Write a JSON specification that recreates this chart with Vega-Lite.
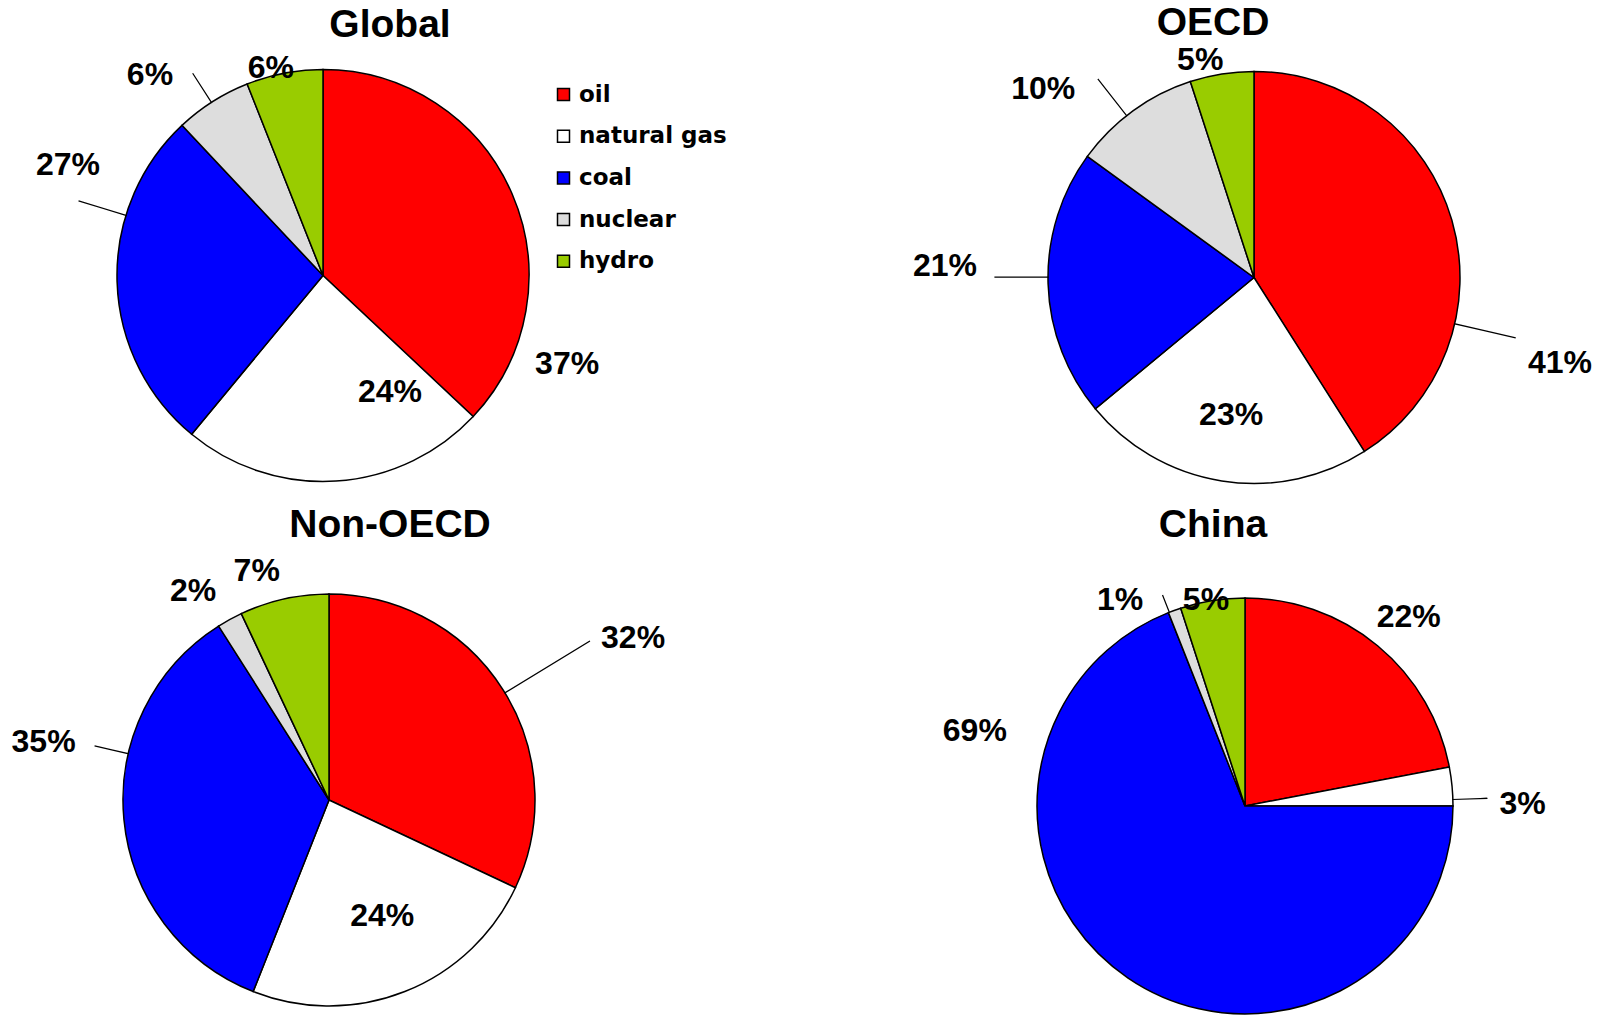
{
  "$schema": "https://vega.github.io/schema/vega-lite/v6.json",
  "background": "white",
  "padding": 0,
  "datasets": {
    "shares": [
      {"region": "Global", "fuel": "oil", "rank": 1, "value": 0.37},
      {"region": "Global", "fuel": "natural gas", "rank": 2, "value": 0.24},
      {"region": "Global", "fuel": "coal", "rank": 3, "value": 0.27},
      {"region": "Global", "fuel": "nuclear", "rank": 4, "value": 0.06},
      {"region": "Global", "fuel": "hydro", "rank": 5, "value": 0.06},
      {"region": "OECD", "fuel": "oil", "rank": 1, "value": 0.41},
      {"region": "OECD", "fuel": "natural gas", "rank": 2, "value": 0.23},
      {"region": "OECD", "fuel": "coal", "rank": 3, "value": 0.21},
      {"region": "OECD", "fuel": "nuclear", "rank": 4, "value": 0.10},
      {"region": "OECD", "fuel": "hydro", "rank": 5, "value": 0.05},
      {"region": "Non-OECD", "fuel": "oil", "rank": 1, "value": 0.32},
      {"region": "Non-OECD", "fuel": "natural gas", "rank": 2, "value": 0.24},
      {"region": "Non-OECD", "fuel": "coal", "rank": 3, "value": 0.35},
      {"region": "Non-OECD", "fuel": "nuclear", "rank": 4, "value": 0.02},
      {"region": "Non-OECD", "fuel": "hydro", "rank": 5, "value": 0.07},
      {"region": "China", "fuel": "oil", "rank": 1, "value": 0.22},
      {"region": "China", "fuel": "natural gas", "rank": 2, "value": 0.03},
      {"region": "China", "fuel": "coal", "rank": 3, "value": 0.69},
      {"region": "China", "fuel": "nuclear", "rank": 4, "value": 0.01},
      {"region": "China", "fuel": "hydro", "rank": 5, "value": 0.05}
    ]
  },
  "data": {"name": "shares"},
  "config": {
    "view": {"stroke": null},
    "title": {"font": "Liberation Sans", "fontSize": 39, "fontWeight": "bold", "color": "black", "anchor": "middle", "frame": "group"},
    "text": {"font": "Liberation Sans", "fontSize": 32, "fontWeight": "bold", "color": "black", "align": "center", "baseline": "middle"},
    "arc": {"stroke": "black", "strokeWidth": 1.5}
  },
  "columns": 2,
  "align": "each",
  "bounds": "flush",
  "spacing": {"row": 45, "column": 280},
  "resolve": {"scale": {"color": "shared"}},
  "concat": [
    {
      "title": {"text": "Global", "dx": 67, "offset": -45.3},
      "width": 646,
      "height": 551,
      "transform": [
        {"filter": "datum.region === 'Global'"},
        {"stack": "value", "groupby": ["region"], "sort": [{"field": "rank", "order": "ascending"}], "as": ["start", "end"]}
      ],
      "layer": [
        {
          "mark": {"type": "arc", "outerRadius": 206},
          "encoding": {
            "theta": {"field": "start", "type": "quantitative", "scale": {"domain": [0, 1]}},
            "theta2": {"field": "end"},
            "color": {
              "field": "fuel", "type": "nominal",
              "scale": {"domain": ["oil", "natural gas", "coal", "nuclear", "hydro"], "range": ["#ff0000", "#ffffff", "#0000ff", "#dddddd", "#99cc00"]},
              "legend": {"orient": "none", "legendX": 552, "legendY": 83, "title": null, "symbolType": "square", "symbolSize": 144, "symbolStrokeColor": "black", "symbolStrokeWidth": 1.5, "symbolOpacity": 1, "labelFont": "DejaVu Sans", "labelFontSize": 23, "labelFontWeight": "bold", "labelColor": "black", "rowPadding": 17.7, "labelOffset": 4}
            }
          }
        },
        {"transform": [{"filter": "datum.fuel === 'nuclear'"}], "mark": {"type": "arc", "radius": 240, "radius2": 206, "thetaOffset": 0.1815, "theta2Offset": 0.1816, "filled": false, "stroke": "black", "strokeWidth": 1.2},
         "encoding": {"theta": {"field": "start", "type": "quantitative", "scale": {"domain": [0, 1]}}, "theta2": {"field": "start"}}},
        {"transform": [{"filter": "datum.fuel === 'coal'"}], "mark": {"type": "arc", "radius": 255, "radius2": 206, "thetaOffset": 1.176, "theta2Offset": 1.1761, "filled": false, "stroke": "black", "strokeWidth": 1.2},
         "encoding": {"theta": {"field": "start", "type": "quantitative", "scale": {"domain": [0, 1]}}, "theta2": {"field": "start"}}},
        {"transform": [{"filter": "datum.fuel === 'oil'"}], "mark": {"type": "text", "radius": 259.6, "thetaOffset": 1.918},
         "encoding": {"theta": {"field": "start", "type": "quantitative", "scale": {"domain": [0, 1]}}, "text": {"field": "value", "type": "quantitative", "format": ".0%"}}},
        {"transform": [{"filter": "datum.fuel === 'natural gas'"}], "mark": {"type": "text", "radius": 134.4, "thetaOffset": 0.295},
         "encoding": {"theta": {"field": "start", "type": "quantitative", "scale": {"domain": [0, 1]}}, "text": {"field": "value", "type": "quantitative", "format": ".0%"}}},
        {"transform": [{"filter": "datum.fuel === 'coal'"}], "mark": {"type": "text", "radius": 277.9, "thetaOffset": 1.288},
         "encoding": {"theta": {"field": "start", "type": "quantitative", "scale": {"domain": [0, 1]}}, "text": {"field": "value", "type": "quantitative", "format": ".0%"}}},
        {"transform": [{"filter": "datum.fuel === 'nuclear'"}], "mark": {"type": "text", "radius": 264.8, "thetaOffset": 0.042},
         "encoding": {"theta": {"field": "start", "type": "quantitative", "scale": {"domain": [0, 1]}}, "text": {"field": "value", "type": "quantitative", "format": ".0%"}}},
        {"transform": [{"filter": "datum.fuel === 'hydro'"}], "mark": {"type": "text", "radius": 213.9, "thetaOffset": 0.131},
         "encoding": {"theta": {"field": "start", "type": "quantitative", "scale": {"domain": [0, 1]}}, "text": {"field": "value", "type": "quantitative", "format": ".0%"}}}
      ]
    },
    {
      "title": {"text": "OECD", "dx": -41, "offset": -42.7},
      "width": 632,
      "height": 555,
      "transform": [
        {"filter": "datum.region === 'OECD'"},
        {"stack": "value", "groupby": ["region"], "sort": [{"field": "rank", "order": "ascending"}], "as": ["start", "end"]}
      ],
      "layer": [
        {
          "mark": {"type": "arc", "outerRadius": 206},
          "encoding": {
            "theta": {"field": "start", "type": "quantitative", "scale": {"domain": [0, 1]}},
            "theta2": {"field": "end"},
            "color": {"field": "fuel", "type": "nominal"}
          }
        },
        {"transform": [{"filter": "datum.fuel === 'nuclear'"}], "mark": {"type": "arc", "radius": 252, "radius2": 206, "thetaOffset": 0.2758, "theta2Offset": 0.2759, "filled": false, "stroke": "black", "strokeWidth": 1.2},
         "encoding": {"theta": {"field": "start", "type": "quantitative", "scale": {"domain": [0, 1]}}, "theta2": {"field": "start"}}},
        {"transform": [{"filter": "datum.fuel === 'coal'"}], "mark": {"type": "arc", "radius": 259, "radius2": 206, "thetaOffset": 0.6929, "theta2Offset": 0.693, "filled": false, "stroke": "black", "strokeWidth": 1.2},
         "encoding": {"theta": {"field": "start", "type": "quantitative", "scale": {"domain": [0, 1]}}, "theta2": {"field": "start"}}},
        {"transform": [{"filter": "datum.fuel === 'oil'"}], "mark": {"type": "arc", "radius": 268, "radius2": 206, "thetaOffset": 1.7977, "theta2Offset": 1.7978, "filled": false, "stroke": "black", "strokeWidth": 1.2},
         "encoding": {"theta": {"field": "start", "type": "quantitative", "scale": {"domain": [0, 1]}}, "theta2": {"field": "start"}}},
        {"transform": [{"filter": "datum.fuel === 'oil'"}], "mark": {"type": "text", "radius": 317.8, "thetaOffset": 1.844},
         "encoding": {"theta": {"field": "start", "type": "quantitative", "scale": {"domain": [0, 1]}}, "text": {"field": "value", "type": "quantitative", "format": ".0%"}}},
        {"transform": [{"filter": "datum.fuel === 'natural gas'"}], "mark": {"type": "text", "radius": 138.9, "thetaOffset": 0.731},
         "encoding": {"theta": {"field": "start", "type": "quantitative", "scale": {"domain": [0, 1]}}, "text": {"field": "value", "type": "quantitative", "format": ".0%"}}},
        {"transform": [{"filter": "datum.fuel === 'coal'"}], "mark": {"type": "text", "radius": 309.2, "thetaOffset": 0.728},
         "encoding": {"theta": {"field": "start", "type": "quantitative", "scale": {"domain": [0, 1]}}, "text": {"field": "value", "type": "quantitative", "format": ".0%"}}},
        {"transform": [{"filter": "datum.fuel === 'nuclear'"}], "mark": {"type": "text", "radius": 282.6, "thetaOffset": 0.101},
         "encoding": {"theta": {"field": "start", "type": "quantitative", "scale": {"domain": [0, 1]}}, "text": {"field": "value", "type": "quantitative", "format": ".0%"}}},
        {"transform": [{"filter": "datum.fuel === 'hydro'"}], "mark": {"type": "text", "radius": 224.2, "thetaOffset": 0.072},
         "encoding": {"theta": {"field": "start", "type": "quantitative", "scale": {"domain": [0, 1]}}, "text": {"field": "value", "type": "quantitative", "format": ".0%"}}}
      ]
    },
    {
      "title": {"text": "Non-OECD", "dx": 61, "offset": 10},
      "width": 658,
      "height": 400,
      "transform": [
        {"filter": "datum.region === 'Non-OECD'"},
        {"stack": "value", "groupby": ["region"], "sort": [{"field": "rank", "order": "ascending"}], "as": ["start", "end"]}
      ],
      "layer": [
        {
          "mark": {"type": "arc", "outerRadius": 206},
          "encoding": {
            "theta": {"field": "start", "type": "quantitative", "scale": {"domain": [0, 1]}},
            "theta2": {"field": "end"},
            "color": {"field": "fuel", "type": "nominal"}
          }
        },
        {"transform": [{"filter": "datum.fuel === 'oil'"}], "mark": {"type": "arc", "radius": 305, "radius2": 206, "thetaOffset": 1.0236, "theta2Offset": 1.0237, "filled": false, "stroke": "black", "strokeWidth": 1.2},
         "encoding": {"theta": {"field": "start", "type": "quantitative", "scale": {"domain": [0, 1]}}, "theta2": {"field": "start"}}},
        {"transform": [{"filter": "datum.fuel === 'coal'"}], "mark": {"type": "arc", "radius": 240, "radius2": 206, "thetaOffset": 1.4207, "theta2Offset": 1.4208, "filled": false, "stroke": "black", "strokeWidth": 1.2},
         "encoding": {"theta": {"field": "start", "type": "quantitative", "scale": {"domain": [0, 1]}}, "theta2": {"field": "start"}}},
        {"transform": [{"filter": "datum.fuel === 'oil'"}], "mark": {"type": "text", "radius": 344.4, "thetaOffset": 1.082},
         "encoding": {"theta": {"field": "start", "type": "quantitative", "scale": {"domain": [0, 1]}}, "text": {"field": "value", "type": "quantitative", "format": ".0%"}}},
        {"transform": [{"filter": "datum.fuel === 'natural gas'"}], "mark": {"type": "text", "radius": 127.9, "thetaOffset": 0.702},
         "encoding": {"theta": {"field": "start", "type": "quantitative", "scale": {"domain": [0, 1]}}, "text": {"field": "value", "type": "quantitative", "format": ".0%"}}},
        {"transform": [{"filter": "datum.fuel === 'coal'"}], "mark": {"type": "text", "radius": 291.3, "thetaOffset": 1.395},
         "encoding": {"theta": {"field": "start", "type": "quantitative", "scale": {"domain": [0, 1]}}, "text": {"field": "value", "type": "quantitative", "format": ".0%"}}},
        {"transform": [{"filter": "datum.fuel === 'nuclear'"}], "mark": {"type": "text", "radius": 249.4, "thetaOffset": -0.011},
         "encoding": {"theta": {"field": "start", "type": "quantitative", "scale": {"domain": [0, 1]}}, "text": {"field": "value", "type": "quantitative", "format": ".0%"}}},
        {"transform": [{"filter": "datum.fuel === 'hydro'"}], "mark": {"type": "text", "radius": 240.1, "thetaOffset": 0.134},
         "encoding": {"theta": {"field": "start", "type": "quantitative", "scale": {"domain": [0, 1]}}, "text": {"field": "value", "type": "quantitative", "format": ".0%"}}}
      ]
    },
    {
      "title": {"text": "China", "dx": -32, "offset": 39},
      "width": 614,
      "height": 412,
      "transform": [
        {"filter": "datum.region === 'China'"},
        {"stack": "value", "groupby": ["region"], "sort": [{"field": "rank", "order": "ascending"}], "as": ["start", "end"]}
      ],
      "layer": [
        {
          "mark": {"type": "arc", "outerRadius": 208},
          "encoding": {
            "theta": {"field": "start", "type": "quantitative", "scale": {"domain": [0, 1]}},
            "theta2": {"field": "end"},
            "color": {"field": "fuel", "type": "nominal"}
          }
        },
        {"transform": [{"filter": "datum.fuel === 'natural gas'"}], "mark": {"type": "arc", "radius": 242, "radius2": 208, "thetaOffset": 0.1571, "theta2Offset": 0.1572, "filled": false, "stroke": "black", "strokeWidth": 1.2},
         "encoding": {"theta": {"field": "start", "type": "quantitative", "scale": {"domain": [0, 1]}}, "theta2": {"field": "start"}}},
        {"transform": [{"filter": "datum.fuel === 'nuclear'"}], "mark": {"type": "arc", "radius": 226, "radius2": 208, "thetaOffset": 0.0044, "theta2Offset": 0.0045, "filled": false, "stroke": "black", "strokeWidth": 1.2},
         "encoding": {"theta": {"field": "start", "type": "quantitative", "scale": {"domain": [0, 1]}}, "theta2": {"field": "start"}}},
        {"transform": [{"filter": "datum.fuel === 'oil'"}], "mark": {"type": "text", "radius": 250.3, "thetaOffset": 0.713},
         "encoding": {"theta": {"field": "start", "type": "quantitative", "scale": {"domain": [0, 1]}}, "text": {"field": "value", "type": "quantitative", "format": ".0%"}}},
        {"transform": [{"filter": "datum.fuel === 'natural gas'"}], "mark": {"type": "text", "radius": 277.7, "thetaOffset": 0.183},
         "encoding": {"theta": {"field": "start", "type": "quantitative", "scale": {"domain": [0, 1]}}, "text": {"field": "value", "type": "quantitative", "format": ".0%"}}},
        {"transform": [{"filter": "datum.fuel === 'coal'"}], "mark": {"type": "text", "radius": 280.5, "thetaOffset": 3.414},
         "encoding": {"theta": {"field": "start", "type": "quantitative", "scale": {"domain": [0, 1]}}, "text": {"field": "value", "type": "quantitative", "format": ".0%"}}},
        {"transform": [{"filter": "datum.fuel === 'nuclear'"}], "mark": {"type": "text", "radius": 241, "thetaOffset": -0.168},
         "encoding": {"theta": {"field": "start", "type": "quantitative", "scale": {"domain": [0, 1]}}, "text": {"field": "value", "type": "quantitative", "format": ".0%"}}},
        {"transform": [{"filter": "datum.fuel === 'hydro'"}], "mark": {"type": "text", "radius": 209.7, "thetaOffset": 0.127},
         "encoding": {"theta": {"field": "start", "type": "quantitative", "scale": {"domain": [0, 1]}}, "text": {"field": "value", "type": "quantitative", "format": ".0%"}}}
      ]
    }
  ]
}
